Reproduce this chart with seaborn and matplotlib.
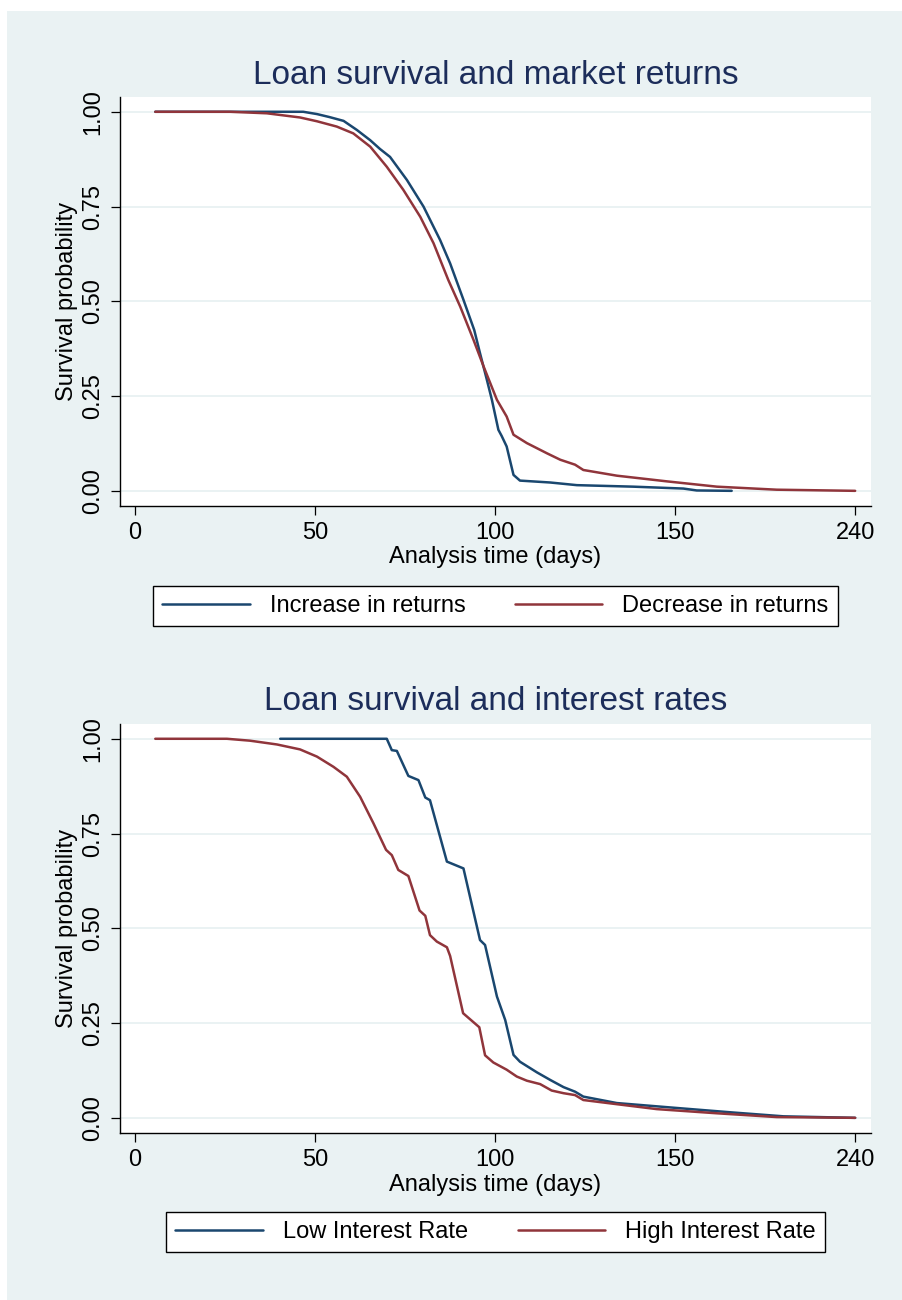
"""
Kaplan-Meier style loan survival curves, two panels (Stata s2color look).
"""
import numpy as np
import pandas as pd
import matplotlib
matplotlib.use('Agg')
import matplotlib.pyplot as plt
import matplotlib.patches as mpatches
from matplotlib.lines import Line2D
import seaborn as sns

# ---- data (x in axis units; last tick is labelled 240) ----
xticks = [0, 50, 100, 150, 200]
xtick_labels = ["0", "50", "100", "150", "240"]
yticks = [0.0, 0.25, 0.5, 0.75, 1.0]
ytick_labels = ["0.00", "0.25", "0.50", "0.75", "1.00"]

# panel 1: market returns
inc_t = [5.6, 46.7, 50.5, 54.0, 57.9, 61.6, 65.3, 68.0, 70.8, 75.5, 80.1, 84.7, 87.5, 91.2,
         94.2, 95.8, 97.7, 99.1, 100.9, 101.8, 103.2, 105.1, 106.9, 115.3, 122.7, 138.4,
         152.3, 156.0, 165.7]
inc_s = [1.0, 1.0, 0.994, 0.986, 0.976, 0.952, 0.925, 0.902, 0.881, 0.820, 0.750, 0.662, 0.600, 0.504,
         0.424, 0.363, 0.293, 0.240, 0.161, 0.145, 0.117, 0.042, 0.027, 0.022, 0.015, 0.011,
         0.006, 0.001, 0.0]
dec_t = [5.6, 26.4, 36.6, 45.8, 50.5, 56.0, 60.6, 65.3, 69.9, 74.5, 79.2, 82.9, 87.0,
         90.3, 94.0, 96.8, 100.5, 103.2, 105.1, 108.8, 114.4, 118.1, 122.2, 124.5,
         133.8, 147.7, 161.6, 178.2, 200.0]
dec_s = [1.0, 1.0, 0.996, 0.985, 0.975, 0.961, 0.943, 0.908, 0.855, 0.794, 0.723, 0.653, 0.556,
         0.486, 0.398, 0.328, 0.240, 0.196, 0.148, 0.126, 0.099, 0.082, 0.069, 0.055,
         0.040, 0.025, 0.011, 0.003, 0.0]

# panel 2: interest rates
low_t = [40.3, 69.9, 71.3, 72.7, 75.9, 78.7, 80.6, 81.9, 86.6, 91.2, 95.8, 97.2, 100.5,
         102.8, 105.1, 106.9, 111.6, 115.3, 119.0, 122.2, 124.5, 133.8, 150.5, 166.2,
         180.1, 200.0]
low_s = [1.0, 1.0, 0.970, 0.968, 0.902, 0.891, 0.845, 0.838, 0.676, 0.658, 0.469, 0.456, 0.320,
         0.258, 0.166, 0.148, 0.120, 0.100, 0.081, 0.069, 0.056, 0.039, 0.026, 0.014,
         0.004, 0.0]
high_t = [5.6, 25.5, 31.9, 39.4, 45.8, 50.5, 55.1, 58.8, 62.5, 66.2, 69.7, 71.3, 73.1, 75.9,
          79.0, 80.6, 81.9, 83.8, 86.6, 87.5, 91.1, 95.6, 97.2, 99.5, 103.2, 106.0, 108.8,
          112.5, 115.7, 119.0, 122.2, 124.5, 133.8, 144.9, 161.6, 178.2, 200.0]
high_s = [1.0, 1.0, 0.995, 0.985, 0.972, 0.953, 0.926, 0.900, 0.847, 0.777, 0.707, 0.693, 0.654,
          0.638, 0.547, 0.533, 0.482, 0.465, 0.450, 0.427, 0.276, 0.239, 0.165, 0.146, 0.127,
          0.109, 0.098, 0.089, 0.072, 0.065, 0.060, 0.047, 0.036, 0.023, 0.012, 0.002, 0.0]

BLUE = '#1A476F'
RED = '#90353B'
PANEL = '#EAF2F3'
TITLE_C = '#1C2D5A'
W, H = 902, 1300

sns.set_theme(style='white')
plt.rcParams['font.family'] = ['Liberation Sans', 'DejaVu Sans']

fig = plt.figure(figsize=(W / 100, H / 100), dpi=100)
fig.patch.set_facecolor('white')
fig.patches.append(mpatches.Rectangle((7 / W, 0), 1 - 7 / W, 1 - 11 / H,
                                      transform=fig.transFigure, facecolor=PANEL,
                                      edgecolor='none', zorder=-10))


def px_axes(left, top, right, bottom):
    return fig.add_axes([left / W, 1 - bottom / H, (right - left) / W, (bottom - top) / H])


def panel(ax, title, title_y, xlabel_y, legend_y, names, series):
    frames = []
    for name, (t, s) in zip(names, series):
        frames.append(pd.DataFrame({'t': t, 's': s, 'group': name}))
    df = pd.concat(frames, ignore_index=True)
    pal = dict(zip(names, [BLUE, RED]))
    sns.lineplot(data=df, x='t', y='s', hue='group', palette=pal, estimator=None,
                 sort=False, linewidth=1.8, legend=False, ax=ax, zorder=3)

    ax.set_facecolor('white')
    ax.set_xlim(-4.2, 204.4)
    ax.set_ylim(-0.04, 1.039)
    ax.set_xticks(xticks)
    ax.set_xticklabels(xtick_labels)
    ax.set_yticks(yticks)
    ax.set_yticklabels(ytick_labels)
    ax.grid(axis='y', color=PANEL, linewidth=1.4, zorder=0)
    ax.grid(axis='x', visible=False)
    for side in ['top', 'right']:
        ax.spines[side].set_visible(False)
    for side in ['left', 'bottom']:
        ax.spines[side].set_color('black')
        ax.spines[side].set_linewidth(1.0)
    ax.tick_params(axis='both', direction='out', length=6.5, width=0.9, color='black',
                   labelsize=17, labelcolor='black', pad=5, left=True, bottom=True)
    plt.setp(ax.get_yticklabels(), rotation=90, va='center')

    ax.set_xlabel('')
    ax.set_ylabel('Survival probability', fontsize=17, color='black')
    ax.yaxis.set_label_coords(-0.0706, 0.5)
    ax.yaxis.label.set_va('center')

    cx = 495.5 / W
    fig.text(cx, 1 - title_y / H, title, ha='center', va='center', fontsize=24, color=TITLE_C)
    fig.text(cx, 1 - xlabel_y / H, 'Analysis time (days)', ha='center', va='center',
             fontsize=17, color='black')

    handles = [Line2D([], [], color=BLUE, lw=1.8), Line2D([], [], color=RED, lw=1.8)]
    leg = fig.legend(handles, names, loc='center', bbox_to_anchor=(cx, 1 - legend_y / H),
                     ncol=2, fontsize=17, frameon=True, fancybox=False, handlelength=3.7,
                     handletextpad=0.85, columnspacing=2.1, borderpad=0.4, framealpha=1)
    leg.get_frame().set_edgecolor('black')
    leg.get_frame().set_linewidth(1.0)
    leg.get_frame().set_facecolor('white')
    for txt in leg.get_texts():
        txt.set_color('black')


ax1 = px_axes(120, 97, 871, 506)
panel(ax1, 'Loan survival and market returns', 75, 557, 606,
      ['Increase in returns', 'Decrease in returns'],
      [(inc_t, inc_s), (dec_t, dec_s)])

ax2 = px_axes(120, 724, 871, 1133)
panel(ax2, 'Loan survival and interest rates', 702, 1185, 1232,
      ['Low Interest Rate', 'High Interest Rate'],
      [(low_t, low_s), (high_t, high_s)])

fig.savefig('out.png', dpi=100, facecolor=fig.get_facecolor())
